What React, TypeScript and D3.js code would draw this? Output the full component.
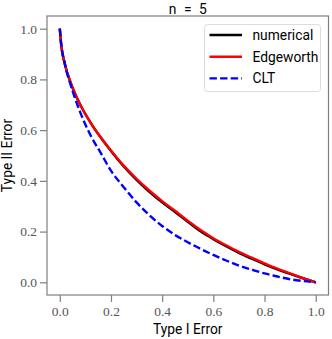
import React, { useRef, useEffect } from "react";
import * as d3 from "d3";

// Type I error grid (x)
const alphas = [0, 0.005, 0.02, 0.045, 0.08, 0.12, 0.16, 0.2, 0.25, 0.3, 0.35, 0.4, 0.45, 0.5, 0.55, 0.6, 0.65, 0.7, 0.75, 0.8, 0.85, 0.9, 0.95, 1.0];

// Type II error per curve
const numerical = [1.0, 0.94, 0.86, 0.78, 0.7, 0.63, 0.571, 0.518, 0.457, 0.404, 0.357, 0.315, 0.277, 0.239, 0.201, 0.17, 0.142, 0.116, 0.093, 0.071, 0.051, 0.033, 0.016, 0.0];
const edgeworth = [1.0, 0.94, 0.86, 0.78, 0.7, 0.63, 0.572, 0.52, 0.46, 0.408, 0.362, 0.32, 0.282, 0.243, 0.206, 0.174, 0.146, 0.12, 0.097, 0.075, 0.054, 0.035, 0.017, 0.0];
const clt = [1.0, 0.945, 0.86, 0.77, 0.67, 0.58, 0.51, 0.44, 0.375, 0.315, 0.265, 0.222, 0.187, 0.158, 0.132, 0.108, 0.086, 0.066, 0.05, 0.035, 0.023, 0.012, 0.005, 0.0];

const ticks = [0, 0.2, 0.4, 0.6, 0.8, 1.0];

const series = [
  { name: "numerical", values: numerical, color: "#000000", dash: null },
  { name: "Edgeworth", values: edgeworth, color: "#ff0000", dash: null },
  { name: "CLT", values: clt, color: "#0000ff", dash: "7.4,3.2" },
];

const sans = "Roboto, 'Open Sans', sans-serif";

function App() {
  const svgRef = useRef<SVGSVGElement>(null);

  useEffect(() => {
    const svg = d3.select(svgRef.current);
    svg.selectAll("*").remove();

    const left = 47, right = 328.5, top = 16, bottom = 295;
    const x = d3.scaleLinear().domain([-0.05, 1.05]).range([left, right]);
    const y = d3.scaleLinear().domain([-0.05, 1.05]).range([bottom, top]);

    const gray = "#7f7f7f";

    // curves
    const line = d3
      .line<number>()
      .x((d, i) => x(alphas[i]))
      .y((d) => y(d))
      .curve(d3.curveMonotoneX);

    series.forEach((s) => {
      svg
        .append("path")
        .attr("d", line(s.values))
        .attr("fill", "none")
        .attr("stroke", s.color)
        .attr("stroke-width", 2.4)
        .attr("stroke-dasharray", s.dash);
    });

    // frame
    svg
      .append("rect")
      .attr("x", left)
      .attr("y", top)
      .attr("width", right - left)
      .attr("height", bottom - top)
      .attr("fill", "none")
      .attr("stroke", gray)
      .attr("stroke-width", 1.2);

    // axes
    const xAxis = d3
      .axisBottom(x)
      .tickValues(ticks)
      .tickFormat(d3.format(".1f"))
      .tickSize(7)
      .tickPadding(4);
    const gx = svg.append("g").attr("transform", `translate(0,${bottom})`).call(xAxis);

    const yAxis = d3
      .axisLeft(y)
      .tickValues(ticks)
      .tickFormat(d3.format(".1f"))
      .tickSize(7)
      .tickPadding(3);
    const gy = svg.append("g").attr("transform", `translate(${left},0)`).call(yAxis);

    [gx, gy].forEach((g) => {
      g.select(".domain").remove();
      g.selectAll(".tick line").attr("stroke", gray).attr("stroke-width", 1.2);
      g.selectAll(".tick text")
        .attr("fill", "#555")
        .style("font-family", "'Liberation Serif', serif")
        .style("font-size", "13.5px");
    });

    // x label, sized so it spans about 70px like the reference
    const xl = svg
      .append("text")
      .attr("x", (left + right) / 2)
      .attr("y", 334)
      .attr("text-anchor", "middle")
      .style("font-family", sans)
      .style("font-size", "13px")
      .text("Type I Error");
    const w = (xl.node() as SVGTextElement).getComputedTextLength();
    const fs = w > 0 ? Math.min(14, (13 * 69.6) / w) : 13;
    xl.style("font-size", fs + "px");

    svg
      .append("text")
      .attr("transform", `translate(12,${(top + bottom) / 2}) rotate(-90)`)
      .attr("text-anchor", "middle")
      .style("font-family", sans)
      .style("font-size", fs + "px")
      .text("Type II Error");

    svg
      .append("text")
      .attr("x", (left + right) / 2)
      .attr("y", 13.5)
      .attr("text-anchor", "middle")
      .style("font-family", sans)
      .style("font-size", fs + "px")
      .style("word-spacing", "4px")
      .text("n = 5");

    // legend
    const lg = svg.append("g");
    lg.append("rect")
      .attr("x", 204.5)
      .attr("y", 24.5)
      .attr("width", 116)
      .attr("height", 67)
      .attr("rx", 3)
      .attr("fill", "white")
      .attr("fill-opacity", 0.8)
      .attr("stroke", "#dcdcdc");

    series.forEach((s, i) => {
      const cy = 35 + i * 21.7;
      lg.append("line")
        .attr("x1", 209.5)
        .attr("x2", 242)
        .attr("y1", cy)
        .attr("y2", cy)
        .attr("stroke", s.color)
        .attr("stroke-width", 2.4)
        .attr("stroke-dasharray", s.dash);
      lg.append("text")
        .attr("x", 252.5)
        .attr("y", cy)
        .attr("dy", "0.35em")
        .style("font-family", sans)
        .style("font-size", fs + "px")
        .text(s.name);
    });
  }, []);

  return (
    <svg
      ref={svgRef}
      width={332}
      height={339}
      style={{ position: "absolute", left: 0, top: 0, background: "white" }}
    />
  );
}

export default App;
